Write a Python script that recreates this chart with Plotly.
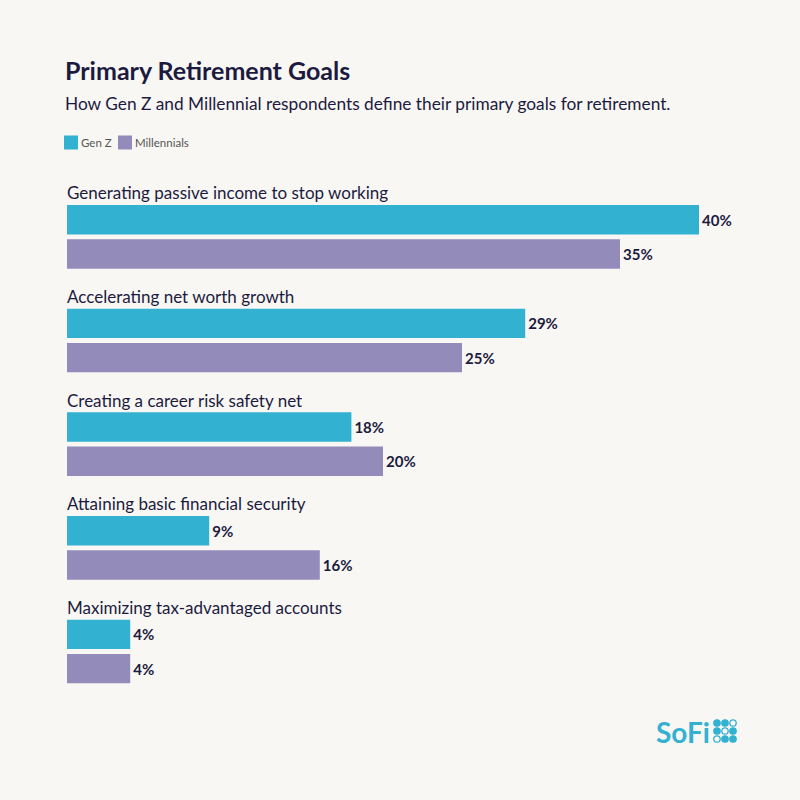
import plotly.graph_objects as go

# data
goals = [
    "Generating passive income to stop working",
    "Accelerating net worth growth",
    "Creating a career risk safety net",
    "Attaining basic financial security",
    "Maximizing tax-advantaged accounts",
]
series = ["Gen Z", "Millennials"]
gen_z = [40, 29, 18, 9, 4]
millennials = [35, 25, 20, 16, 4]

TEAL = "#33B1D1"
PURPLE = "#938BB9"
INK = "#1C1B3F"
BG = "#F9F7F4"
FONT = "Lato"

# plot area in pixels (used to place the heading texts in paper coords)
W = H = 800
L, R, TOP, BOTTOM = 67, 22, 185, 92
PLOT_W = W - L - R
PLOT_H = H - TOP - BOTTOM


def px(x):
    return (x - L) / PLOT_W


def py(y):
    return (H - BOTTOM - y) / PLOT_H


fig = go.Figure()
for name, vals, col in [(series[0], gen_z, TEAL), (series[1], millennials, PURPLE)]:
    fig.add_bar(
        y=goals, x=vals, name=name, orientation="h",
        marker=dict(color=col, line_width=0),
        texttemplate="%{x}%", textposition="outside", cliponaxis=False,
        textfont=dict(family=FONT, size=15, color=INK, weight="bold"),
    )

# category labels above each pair of bars
for g in goals:
    fig.add_annotation(
        x=0, y=g, xref="x", yref="y", text=g, showarrow=False,
        xanchor="left", yanchor="middle", yshift=44, xshift=-2,
        font=dict(family=FONT, size=17, color=INK),
    )

# title + subtitle
fig.add_annotation(
    x=px(63), y=py(70), xref="paper", yref="paper", text="<b>Primary Retirement Goals</b>",
    showarrow=False, xanchor="left", yanchor="middle",
    font=dict(family=FONT, size=25, color=INK),
)
fig.add_annotation(
    x=px(63), y=py(103), xref="paper", yref="paper",
    text="How Gen Z and Millennial respondents define their primary goals for retirement.",
    showarrow=False, xanchor="left", yanchor="middle",
    font=dict(family=FONT, size=17.3, color=INK),
)

# legend drawn by hand (tight spacing like the original)
for name, col, x0, tx in [(series[0], TEAL, 64, 79), (series[1], PURPLE, 118, 133)]:
    fig.add_shape(
        type="rect", xref="paper", yref="paper",
        x0=px(x0), x1=px(x0 + 14), y0=py(149.5), y1=py(135.5),
        fillcolor=col, line_width=0,
    )
    fig.add_annotation(
        x=px(tx), y=py(142.5), xref="paper", yref="paper", text=name,
        showarrow=False, xanchor="left", yanchor="middle",
        font=dict(family=FONT, size=11.5, color="#555555"),
    )

# SoFi logo
fig.add_annotation(
    x=px(654), y=py(732), xref="paper", yref="paper", text="<b>SoFi</b>",
    showarrow=False, xanchor="left", yanchor="middle",
    font=dict(family=FONT, size=28, color=TEAL),
)
filled = [[1, 1, 0], [1, 0, 1], [0, 1, 1]]
for r in range(3):
    for c in range(3):
        cx, cy = 717 + c * 8, 723 + r * 8
        fig.add_shape(
            type="circle", xref="paper", yref="paper",
            x0=px(cx - 3.2), x1=px(cx + 3.2), y0=py(cy + 3.2), y1=py(cy - 3.2),
            fillcolor=TEAL if filled[r][c] else BG,
            line=dict(color=TEAL, width=1.3),
        )

fig.update_layout(
    width=W, height=H,
    paper_bgcolor=BG, plot_bgcolor=BG,
    margin=dict(l=L, r=R, t=TOP, b=BOTTOM),
    barmode="group", bargap=0.34, bargroupgap=0.14,
    showlegend=False,
    font=dict(family=FONT, color=INK),
)
fig.update_xaxes(range=[0, 45], visible=False, fixedrange=True)
fig.update_yaxes(autorange="reversed", visible=False, fixedrange=True)

fig.write_html(
    "out.html",
    config={"displayModeBar": False},
    post_script="document.body.style.margin='0';document.body.style.background='%s';" % BG,
)
